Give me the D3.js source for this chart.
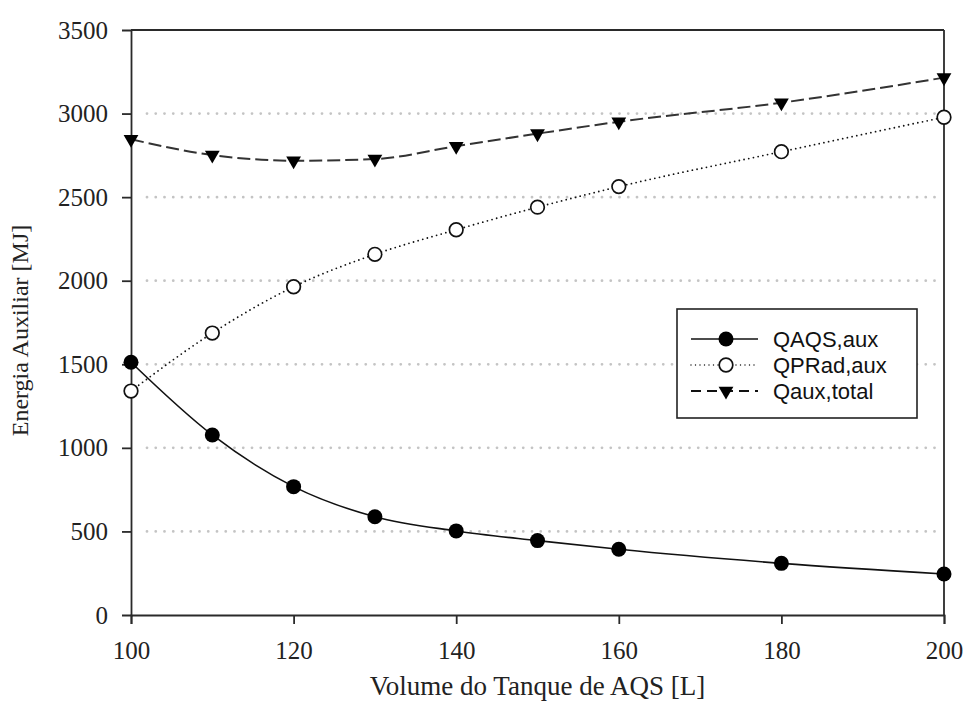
<!DOCTYPE html>
<html>
<head>
<meta charset="utf-8">
<script src="https://cdn.jsdelivr.net/npm/d3@7"></script>
<style>
  html, body { margin: 0; padding: 0; background: #fff; }
  svg { display: block; }
</style>
</head>
<body>
<svg id="chart" width="966" height="718"></svg>
<script>
// ---- data ----
const volumes = [100, 110, 120, 130, 140, 150, 160, 180, 200];
const qAQS   = [1512, 1077, 768, 588, 503, 445, 393, 309, 245];
const qPRad  = [1340, 1687, 1964, 2158, 2305, 2440, 2563, 2772, 2978];
const qTotal = [2846, 2752, 2718, 2728, 2805, 2880, 2951, 3065, 3215];
const seriesNames = ["QAQS,aux", "QPRad,aux", "Qaux,total"];
const xTicks = [100, 120, 140, 160, 180, 200];
const yTicks = [0, 500, 1000, 1500, 2000, 2500, 3000, 3500];
const gridValues = [500, 1000, 1500, 2000, 2500, 3000];
const xLabel = "Volume do Tanque de AQS [L]";
const yLabel = "Energia Auxiliar [MJ]";

// ---- layout ----
const svg = d3.select("#chart");
const L = 131, R = 944, T = 30, B = 615;
const x = d3.scaleLinear().domain([100, 200]).range([L, R]);
const y = d3.scaleLinear().domain([0, 3500]).range([B, T]);
const serif = "'Liberation Serif', 'Times New Roman', serif";
const sans = "'Liberation Sans', Arial, sans-serif";
const axisColor = "#2a2a2a";

// gridlines
svg.append("g").selectAll("line").data(gridValues).join("line")
  .attr("x1", x.range()[0] + 16).attr("x2", x.range()[1] - 6)
  .attr("y1", d => y(d)).attr("y2", d => y(d))
  .attr("stroke", "#c4c4c4").attr("stroke-width", 2.8)
  .attr("stroke-linecap", "round").attr("stroke-dasharray", "0,8.75");

// frame top & right
svg.append("line").attr("x1", L).attr("x2", R).attr("y1", T).attr("y2", T)
  .attr("stroke", axisColor).attr("stroke-width", 1.8);
svg.append("line").attr("x1", R).attr("x2", R).attr("y1", T).attr("y2", B)
  .attr("stroke", axisColor).attr("stroke-width", 1.8);

// axes
const xAxis = svg.append("g").attr("transform", `translate(0,${B})`)
  .call(d3.axisBottom(x).tickValues(xTicks).tickSize(9).tickPadding(17).tickFormat(d3.format("d")));
const yAxis = svg.append("g").attr("transform", `translate(${L},0)`)
  .call(d3.axisLeft(y).tickValues(yTicks).tickSize(9).tickPadding(14).tickFormat(d3.format("d")));
[xAxis, yAxis].forEach(g => {
  g.select(".domain").attr("stroke", axisColor).attr("stroke-width", 1.8);
  g.selectAll(".tick line").attr("stroke", axisColor).attr("stroke-width", 1.8);
  g.selectAll(".tick text").attr("fill", "#222").style("font-family", serif).style("font-size", "25px");
});
yAxis.selectAll(".tick").filter(d => d === 3500).select("line").remove();
yAxis.selectAll(".tick").filter(d => d === 0).select("line").remove();

// axis titles
svg.append("text").attr("x", (L + R) / 2).attr("y", 695)
  .attr("text-anchor", "middle").attr("fill", "#222")
  .style("font-family", serif).style("font-size", "27px").text(xLabel);
svg.append("text").attr("transform", `translate(28,${(T + B) / 2 + 8}) rotate(-90)`)
  .attr("text-anchor", "middle").attr("fill", "#222")
  .style("font-family", serif).style("font-size", "24px").text(yLabel);

// lines
const styles = [
  { vals: qAQS,   dash: null,    width: 1.6, color: "#111", cap: "butt" },
  { vals: qPRad,  dash: "0,4.8", width: 1.8, color: "#111", cap: "round" },
  { vals: qTotal, dash: "13,5",  width: 2,   color: "#333", cap: "butt" }
];
const lineGen = d3.line().x(d => x(d[0])).y(d => y(d[1])).curve(d3.curveMonotoneX);
styles.forEach(s => {
  svg.append("path")
    .datum(volumes.map((v, i) => [v, s.vals[i]]))
    .attr("d", lineGen).attr("fill", "none")
    .attr("stroke", s.color).attr("stroke-width", s.width)
    .attr("stroke-linecap", s.cap)
    .attr("stroke-dasharray", s.dash);
});

// markers
const tri = d3.symbol().type(d3.symbolTriangle).size(95);
function drawMarker(g, kind, cx, cy) {
  if (kind === 0) {
    g.append("circle").attr("cx", cx).attr("cy", cy).attr("r", 7.5).attr("fill", "#000");
  } else if (kind === 1) {
    g.append("circle").attr("cx", cx).attr("cy", cy).attr("r", 6.8)
      .attr("fill", "#fff").attr("stroke", "#111").attr("stroke-width", 1.7);
  } else {
    g.append("path").attr("d", tri()).attr("fill", "#000")
      .attr("transform", `translate(${cx},${cy}) rotate(180)`);
  }
}
const mg = svg.append("g");
[qPRad, qTotal, qAQS].forEach((vals) => {
  const kind = vals === qAQS ? 0 : vals === qPRad ? 1 : 2;
  volumes.forEach((v, i) => drawMarker(mg, kind, x(v), y(vals[i])));
});

// legend
const lg = svg.append("g");
lg.append("rect").attr("x", 677).attr("y", 309).attr("width", 240).attr("height", 109)
  .attr("fill", "#fff").attr("stroke", "#222").attr("stroke-width", 1.6);
const rowY = [339, 365, 391];
const legDash = [null, "0,4.5", "10,6"];
seriesNames.forEach((name, i) => {
  lg.append("line").attr("x1", 691).attr("x2", 758).attr("y1", rowY[i]).attr("y2", rowY[i])
    .attr("stroke", "#111").attr("stroke-width", i === 2 ? 1.8 : 1.4)
    .attr("stroke-linecap", i === 1 ? "round" : "butt")
    .attr("stroke-dasharray", legDash[i]);
  drawMarker(lg, i, 726, rowY[i]);
  lg.append("text").attr("x", 773).attr("y", rowY[i]).attr("dy", "0.35em")
    .attr("fill", "#111").style("font-family", sans).style("font-size", "22px").text(name);
});
</script>
</body>
</html>
